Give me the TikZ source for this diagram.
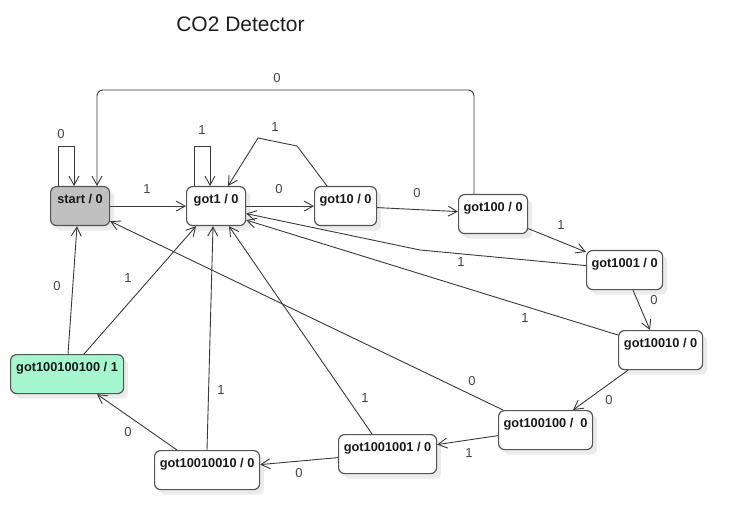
\documentclass[tikz,border=0pt]{standalone}
\usepackage{fontspec}
\newfontfamily\lsans{Liberation Sans}
\usetikzlibrary{arrows.meta,shadows}
\definecolor{edgecol}{HTML}{3A3A3A}
\definecolor{boxline}{HTML}{555555}
\definecolor{lblcol}{HTML}{444444}
\definecolor{startfill}{HTML}{C0C0C0}
\definecolor{acceptfill}{HTML}{A6F6D0}
\definecolor{shadowcol}{HTML}{EBEBEB}
\tikzset{
  statebox/.style={draw=boxline, line width=1.2pt, rounded corners=6pt, fill=white,
    font=\lsans\bfseries\fontsize{12.8}{14}\selectfont, text=black!90,
    inner xsep=0pt, inner ysep=6.5pt, text height=10pt, text depth=16pt,
    minimum height=39pt, anchor=north west,
    drop shadow={shadow xshift=4.5pt, shadow yshift=-5pt, fill=shadowcol, opacity=1}},
  ln/.style={draw=edgecol, line width=0.9pt},
  arr/.style={ln, -{Straight Barb[length=9pt,width=10pt,line width=0.9pt]}},
  lbl/.style={font=\lsans\fontsize{13}{15}\selectfont, text=lblcol, inner sep=0pt},
  titlestyle/.style={font=\lsans\fontsize{21}{25}\selectfont, text=black!88, inner sep=0pt, anchor=base}
}
\begin{document}
\begin{tikzpicture}[x=1pt,y=-1pt]
\useasboundingbox[fill=white] (0,0) rectangle (741,529);
\node[titlestyle] (title) at (240.5,32) {CO2 Detector};
% states
\node[statebox, fill=startfill, minimum width=59pt] (start) at (50,186) {start / 0};
\node[statebox, minimum width=59pt] (g1) at (186,186) {got1 / 0};
\node[statebox, minimum width=62pt] (g10) at (314,186) {got10 / 0};
\node[statebox, minimum width=69pt] (g100) at (458,194) {got100 / 0};
\node[statebox, minimum width=76pt] (g1001) at (586,250) {got1001 / 0};
\node[statebox, minimum width=84pt] (g10010) at (618,330) {got10010 / 0};
\node[statebox, minimum width=94pt] (g100100) at (498,410) {got100100 /\ \ 0};
\node[statebox, minimum width=98pt] (g1001001) at (338,434) {got1001001 / 0};
\node[statebox, minimum width=105pt] (g10010010) at (154,450) {got10010010 / 0};
\node[statebox, fill=acceptfill, minimum width=113pt] (g100100100) at (10,354) {got100100100 / 1};
% connectors
\draw[arr] ([xshift=8pt]start.north west) -- ++(0,-40) -- ++(16,0) -- ([xshift=24pt]start.north west);
\draw[arr] (start.east) -- (g1.west);
\draw[arr, rounded corners=6pt] ([xshift=16pt]g100.north west) -- ++(0,-104) -| ([xshift=47pt]start.north west);
\draw[arr] ([xshift=8pt]g1.north west) -- ++(0,-40) -- ++(16,0) -- ([xshift=24pt]g1.north west);
\draw[arr] ([xshift=13pt]g10.north west) -- (297,146) -- (258,138) -- ([xshift=42pt]g1.north west);
\draw[arr] (g1.east) -- (g10.west);
\draw[arr] ([yshift=-1.5pt]g10.east) -- ([yshift=2.5pt]g100.west);
\draw[arr] ([yshift=-14.5pt]g100.east) -- ([yshift=-2pt]g1001.north west);
\draw[arr] ([yshift=4.5pt]g1001.west) -- (420,250) -- ([yshift=-7.5pt]g1.east);
\draw[arr] ([xshift=47pt]g1001.south west) -- ([xshift=32pt]g10010.north west);
\draw[arr] ([yshift=-5pt]g10010.north west) -- ([yshift=-14pt]g1.east);
\draw[arr] ([xshift=10pt]g10010.south west) -- ([xshift=75pt]g100100.north west);
\draw[arr] ([xshift=5pt]g100100.north west) -- ([yshift=5pt]start.south east);
\draw[arr] ([yshift=-5.5pt]g100100.west) -- ([yshift=9.5pt]g1001001.east);
\draw[arr] ([xshift=34pt]g1001001.north west) -- ([xshift=43pt]g1.south west);
\draw[arr] ([yshift=-3.5pt]g1001001.west) -- ([yshift=5.5pt]g10010010.east);
\draw[arr] ([xshift=23pt]g10010010.north west) -- ([xshift=87pt]g100100100.south west);
\draw[arr] ([xshift=53pt]g10010010.north west) -- ([xshift=27pt]g1.south west);
\draw[arr] ([xshift=74pt]g100100100.north west) -- ([xshift=10pt]g1.south west);
\draw[arr] ([xshift=58pt]g100100100.north west) -- ([xshift=27pt]start.south west);
% labels
\node[lbl] (l1) at (61,134) {0};
\node[lbl] (l2) at (147,189) {1};
\node[lbl] (l3) at (277,78) {0};
\node[lbl] (l4) at (202,130) {1};
\node[lbl] (l5) at (275,127) {1};
\node[lbl] (l6) at (279,189) {0};
\node[lbl] (l7) at (417,193) {0};
\node[lbl] (l8) at (561,225) {1};
\node[lbl] (l9) at (461,262) {1};
\node[lbl] (l10) at (654,300) {0};
\node[lbl] (l11) at (525,318) {1};
\node[lbl] (l12) at (609,400) {0};
\node[lbl] (l13) at (472,381) {0};
\node[lbl] (l14) at (469,453) {1};
\node[lbl] (l15) at (365,398) {1};
\node[lbl] (l16) at (299,473) {0};
\node[lbl] (l17) at (128,432) {0};
\node[lbl] (l18) at (221,390) {1};
\node[lbl] (l19) at (128,278) {1};
\node[lbl] (l20) at (57,286) {0};
\end{tikzpicture}
\end{document}
